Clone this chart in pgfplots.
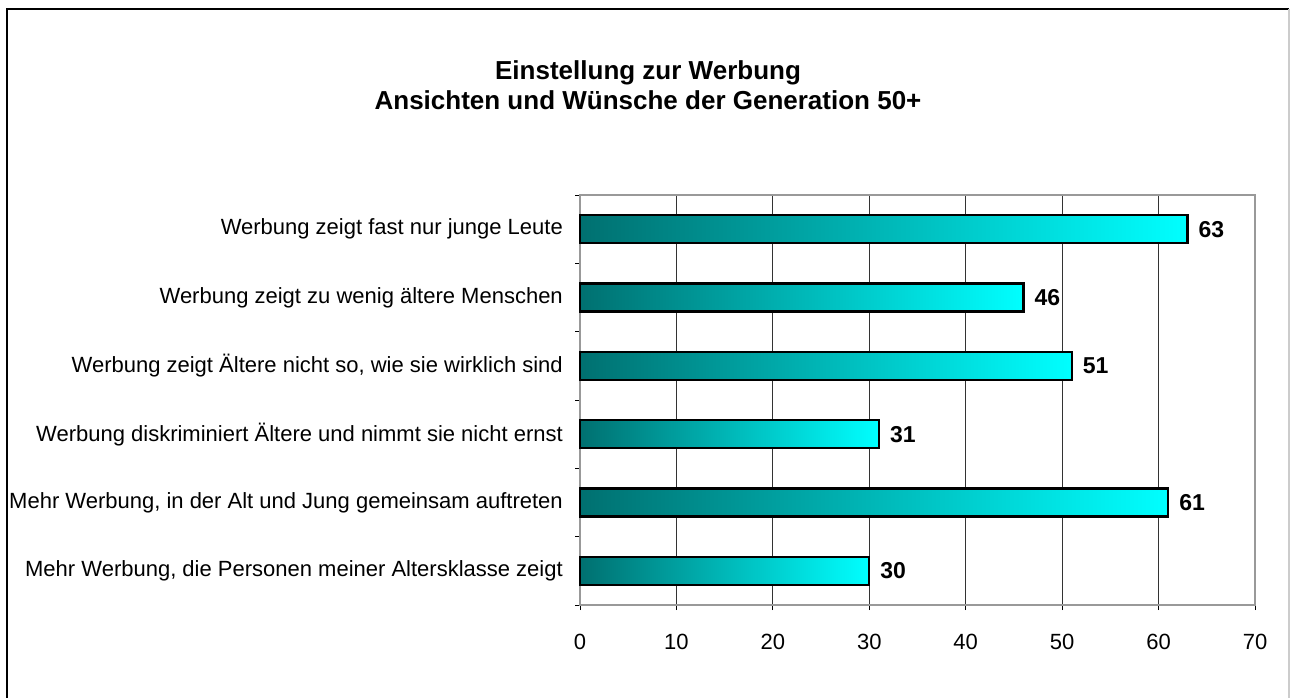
\documentclass[border=0pt]{standalone}
\usepackage{pgfplots}
\pgfplotsset{compat=1.18}
\usepackage{fontspec}
\setmainfont{Liberation Sans}
\definecolor{bardark}{RGB}{0,112,112}
\definecolor{barlight}{RGB}{0,255,255}
\begin{document}
\begin{tikzpicture}[x=1pt,y=1pt]
\useasboundingbox (0,0) rectangle (1290,698);
\draw[line width=2pt] (7,-5) -- (7,689) -- (1289,689);
\draw[gray!40, line width=1.5pt] (1289,689) -- (1289,-5);
\node[font=\fontsize{26}{30}\selectfont\bfseries, align=center] at (648,613) {Einstellung zur Werbung\\Ansichten und Wünsche der Generation 50+};
\begin{axis}[
  at={(580pt,93pt)}, anchor=south west,
  scale only axis, width=675pt, height=410pt,
  xbar, bar shift=0pt, bar width=28pt,
  xmin=0, xmax=70, ymin=0.5, ymax=6.5, y dir=reverse,
  xtick={0,10,...,70},
  ytick={1,2,3,4,5,6},
  yticklabels={Werbung zeigt fast nur junge Leute,Werbung zeigt zu wenig ältere Menschen,{Werbung zeigt Ältere nicht so, wie sie wirklich sind},Werbung diskriminiert Ältere und nimmt sie nicht ernst,{Mehr Werbung, in der Alt und Jung gemeinsam auftreten},{Mehr Werbung, die Personen meiner Altersklasse zeigt}},
  minor ytick={0.5,1.5,2.5,3.5,4.5,5.5,6.5},
  tick pos=left,
  tick align=outside,
  major tick length=5pt, minor tick length=5pt,
  y tick style={draw=none},
  minor y tick style={draw=black, line width=1pt},
  x tick style={draw=black, line width=1pt},
  xmajorgrids,
  major grid style={black!80, line width=1pt},
  axis line style={gray!80, line width=2pt},
  /pgf/number format/assume math mode=true,
  xticklabel style={font=\fontsize{22}{26}\selectfont, inner sep=0pt, yshift=-24pt},
  yticklabel style={font=\fontsize{22}{26}\selectfont, inner sep=0pt, xshift=-12pt},
  nodes near coords,
  nodes near coords style={font=\fontsize{23}{27}\selectfont\bfseries, anchor=west, inner sep=0pt, xshift=10pt, text=black},
  clip=false,
  barsty/.style={draw=black, line width=2.2pt, left color=bardark, right color=barlight},
]
\addplot[barsty] coordinates {(63,1)};
\addplot[barsty] coordinates {(46,2)};
\addplot[barsty] coordinates {(51,3)};
\addplot[barsty] coordinates {(31,4)};
\addplot[barsty] coordinates {(61,5)};
\addplot[barsty] coordinates {(30,6)};
\end{axis}
\end{tikzpicture}
\end{document}
